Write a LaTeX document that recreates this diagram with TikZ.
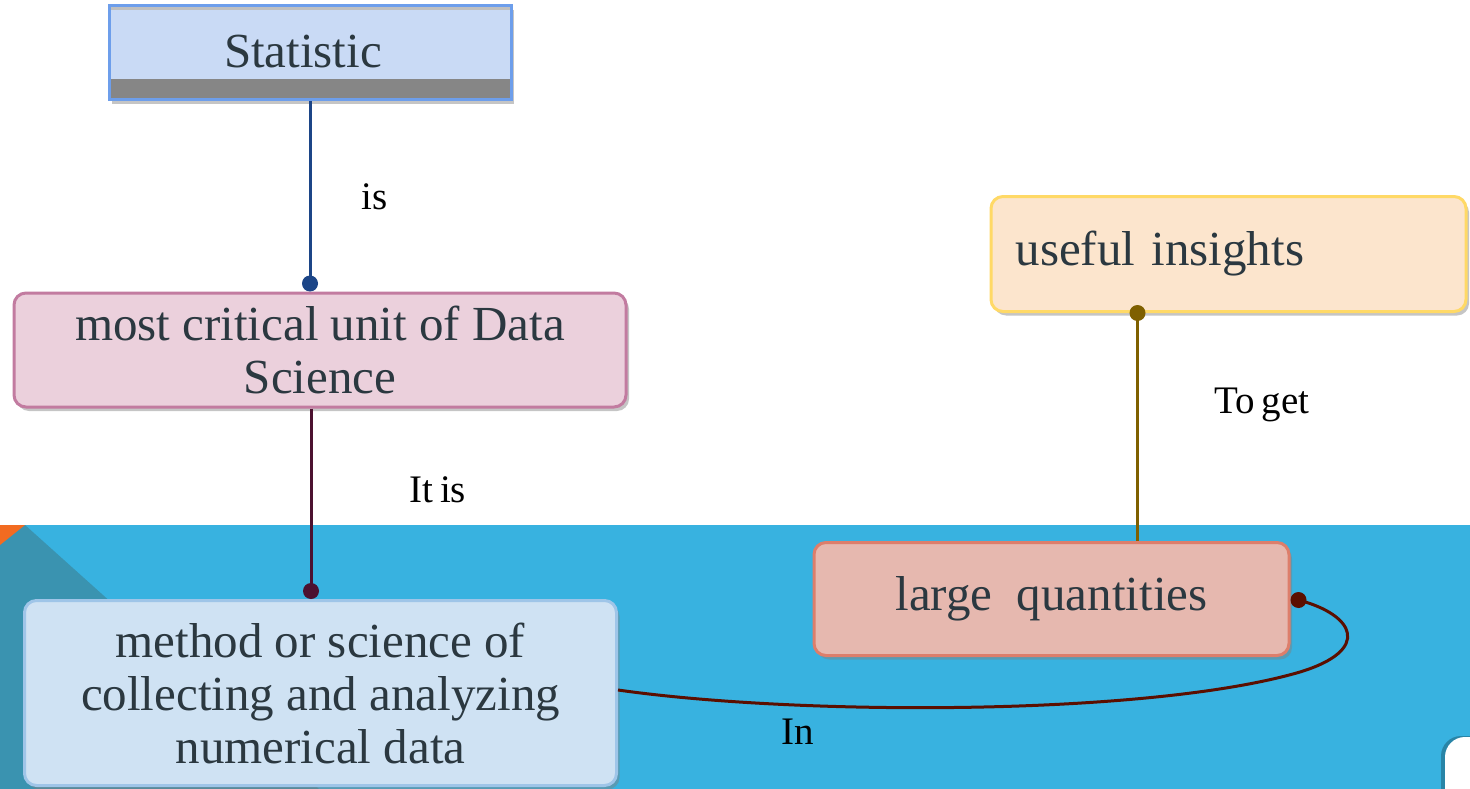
\documentclass[tikz,border=0pt]{standalone}
\usepackage{fontspec}
\setmainfont{Liberation Serif}
\usetikzlibrary{shadows,calc}
\definecolor{bgblue}{HTML}{38B2E0}
\definecolor{bgteal}{HTML}{3A93B0}
\definecolor{bgorange}{HTML}{F26B21}
\definecolor{txt}{HTML}{2B3840}
\definecolor{statfill}{HTML}{C9DAF5}
\definecolor{statdraw}{HTML}{6D9EEB}
\definecolor{pinkfill}{HTML}{EBD0DC}
\definecolor{pinkdraw}{HTML}{C27BA0}
\definecolor{lbfill}{HTML}{CFE2F3}
\definecolor{lbdraw}{HTML}{9FC5E8}
\definecolor{lqfill}{HTML}{E6B8AF}
\definecolor{lqdraw}{HTML}{DD7E6B}
\definecolor{uifill}{HTML}{FCE5CD}
\definecolor{uidraw}{HTML}{FFD966}
\definecolor{cblue}{HTML}{1C4587}
\definecolor{cmaroon}{HTML}{4C1130}
\definecolor{colive}{HTML}{7F6000}
\definecolor{cbrown}{HTML}{5B0F00}
\begin{document}
\begin{tikzpicture}[x=1pt,y=-1pt,
  boxtext/.style={font=\fontsize{49}{53}\selectfont, text=txt, align=center},
  cbox/.style={boxtext, rounded corners=12pt, line width=3pt, inner sep=0pt,
    drop shadow={opacity=0.45, shadow xshift=3pt, shadow yshift=-4pt}},
  lbl/.style={font=\fontsize{39}{44}\selectfont, text=black},
  conn/.style={line width=3pt},
  dotr/.style={radius=8pt}]
\useasboundingbox (0,0) rectangle (1470,789);
% background
\fill[white] (0,0) rectangle (1470,789);
\fill[bgblue] (0,525) rectangle (1470,789);
\fill[bgteal] (0,525) -- (25,525) -- (319,789) -- (0,789) -- cycle;
\fill[bgorange] (0,525) -- (25,525) -- (0,545) -- cycle;
\fill[black, opacity=0.25] (1441,789) -- (1441,756) arc[start angle=180, end angle=270, radius=20] -- (1470,736) -- (1470,789) -- cycle;
\fill[white] (1445,789) -- (1445,757) arc[start angle=180, end angle=270, radius=20] -- (1470,737) -- (1470,789) -- cycle;

% nodes
\node[boxtext, draw=statdraw, fill=statfill, line width=3pt, minimum width=402pt, minimum height=94pt, inner sep=0pt,
  drop shadow={opacity=0.45, shadow xshift=3pt, shadow yshift=-4pt}] (stat) at (310,53) {};
\fill[gray!95] ([xshift=3pt,yshift=3pt]stat.south west) rectangle ([xshift=-3pt,yshift=22pt]stat.south east);
\fill[gray!50] ([xshift=3pt,yshift=-3pt]stat.north west) rectangle ([xshift=-3pt,yshift=-6pt]stat.north east);
\node[boxtext] (stattext) at (303,52) {Statistic};

\node[cbox, draw=pinkdraw, fill=pinkfill, minimum width=612pt, minimum height=114pt] (pink) at (320,350)
  {most critical unit of Data\\Science};
\node[cbox, draw=lbdraw, fill=lbfill, minimum width=592pt, minimum height=185pt] (light) at (320.5,693)
  {method or science of\\collecting and analyzing\\numerical data};
\node[cbox, draw=lqdraw, fill=lqfill, minimum width=475pt, minimum height=113pt] (lq) at (1051.5,599)
  {large\ \ quantities};
\node[cbox, draw=uidraw, fill=uifill, minimum width=475pt, minimum height=115pt, text width=426pt, align=left] (ui) at (1228.5,254)
  {useful insights};

% connectors
\draw[conn, cblue] (stat.south) -- ([yshift=8pt]stat.south |- pink.north) coordinate (d1);
\fill[cblue] (d1) circle[dotr];
\node[lbl] (l1) at (375,197) {is};

\draw[conn, cmaroon] ([xshift=-9pt]pink.south) -- ([xshift=-9pt,yshift=8pt]pink.south |- light.north) coordinate (d2);
\fill[cmaroon] (d2) circle[dotr];
\node[lbl] (l2) at (438,490) {It\,is};

\draw[conn, colive] ([xshift=-91pt]ui.south) coordinate (d3) -- ([xshift=-91pt]ui.south |- lq.north);
\fill[colive] (d3) circle[dotr];
\node[lbl] (l3) at (1262,405) {To\,get};

\coordinate (d4) at ([xshift=8pt]lq.east |- 0,600);
\draw[conn, cbrown] (light.east |- 0,690) .. controls (800,716) and (1150,716) .. (1300,672)
  .. controls (1372,650) and (1355,615) .. (d4);
\fill[cbrown] (d4) circle[dotr];
\node[lbl] (l4) at (798,732) {In};
\end{tikzpicture}
\end{document}
